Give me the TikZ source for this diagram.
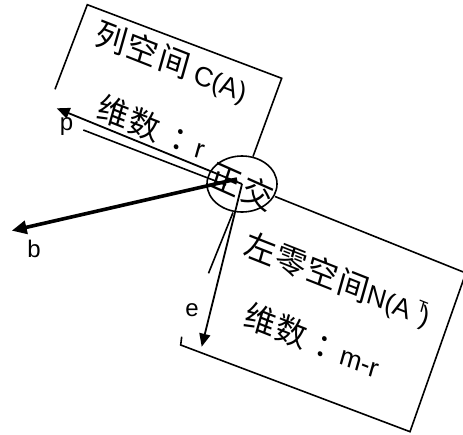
\documentclass[tikz,border=0pt]{standalone}
\usepackage{fontspec}
\setmainfont{Liberation Sans}
\newfontfamily\cjkf{Noto Sans CJK SC}
\usetikzlibrary{arrows.meta,shapes.geometric}
\newcommand\zhtxt[1]{{\cjkf\fontsize{32}{36}\selectfont #1}}
\newcommand\latxt[1]{{\fontsize{27}{32}\selectfont #1}}
\begin{document}
\begin{tikzpicture}[x=1pt,y=-1pt,
  edge/.style={line width=1.6pt, line join=miter},
  arr/.style={line width=1.8pt, -{Triangle[length=13pt,width=11pt]}},
  thickarr/.style={line width=3.6pt, -{Triangle[length=15pt,width=13pt]}},
  lbl/.style={font=\fontsize{24}{28}\selectfont, inner sep=0pt},
  slanttxt/.style={rotate=-21.5, xslant=-0.1, inner sep=0pt},
  oval/.style={draw, ellipse, line width=1.6pt, minimum width=70pt, minimum height=56pt, inner sep=0pt}]
\useasboundingbox (0,0) rectangle (463,434);
% column space box (open)
\coordinate (c1) at (55,89.3);
\coordinate (c2) at (87.3,4.7);
\coordinate (c3) at (281.7,78.3);
\coordinate (c4) at (253,156.5);
\draw[edge] (c1) -- (c2) -- (c3) -- (c4);
% left null space box (open)
\coordinate (d1) at (275,196.5);
\coordinate (d2) at (465.8,273);
\coordinate (d3) at (410,431.7);
\coordinate (d4) at (180.7,345);
\coordinate (d5) at (181.7,336.7);
\draw[edge] (d1) -- (d2) -- (d3) -- (d4) -- (d5);
\coordinate (d6) at (233,212.5);
\coordinate (d7) at (208.5,273.3);
\draw[edge] (d6) -- (d7);
% parallel line under p
\coordinate (q1) at (83.3,130);
\coordinate (q2) at (226,185);
\draw[edge] (q1) -- (q2);
% ellipse
\node[oval] (orth) at (242,184) {};
% vectors
\coordinate (o) at (242,184);
\coordinate (ob) at (237,179);
\coordinate (pend) at (56.7,108.3);
\coordinate (bend) at (11.7,230.7);
\coordinate (eend) at (201.7,346.7);
\draw[arr] (o) -- (pend);
\draw[thickarr] (ob) -- (bend);
\draw[arr] (o) -- (eend);
% labels
\node[lbl] (lp) at (66.5,126.5) {p};
\node[lbl] (lb) at (34,248.5) {b};
\node[lbl] (le) at (192,310) {e};
% texts
\node[slanttxt] (t1) at (171.8,62.5) {\zhtxt{列\hspace{1.5pt}空\hspace{1.5pt}间}\hspace{7pt}\latxt{C(A)}};
\node[slanttxt] (t2) at (151.7,127) {\zhtxt{维\hspace{1.5pt}数\hspace{13pt}：}\hspace{-5pt}\latxt{r}};
\node[slanttxt] (t3) at (337.5,280.4) {\zhtxt{左\hspace{1.5pt}零\hspace{1.5pt}空\hspace{1.5pt}间}\latxt{N(A\hspace{5pt}\raisebox{12pt}{\fontsize{16}{16}\selectfont T}\hspace{-4pt})}};
\node[slanttxt] (t4) at (312.3,340.3) {\zhtxt{维\hspace{1.5pt}数\hspace{10pt}：}\hspace{-4pt}\latxt{m-r}};
\node[rotate=-24, xslant=-0.1, inner sep=0pt] (t5) at (242,186) {\zhtxt{正\hspace{3pt}交}};
\end{tikzpicture}
\end{document}
